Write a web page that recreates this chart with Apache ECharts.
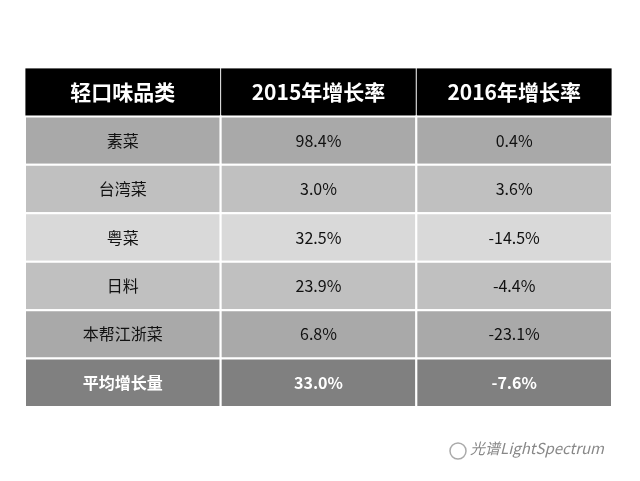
<!DOCTYPE html><html><head><meta charset="utf-8"><script src="https://cdn.jsdelivr.net/npm/echarts@6/dist/echarts.min.js"></script>
<style>html,body{margin:0;background:#fff}#c{width:640px;height:481px}</style></head><body><div id="c"></div><script>
const headers=['轻口味品类','2015年增长率','2016年增长率'];
const categories=['素菜','台湾菜','粤菜','日料','本帮江浙菜','平均增长量'];
const growth2015=['98.4%','3.0%','32.5%','23.9%','6.8%','33.0%'];
const growth2016=['0.4%','3.6%','-14.5%','-4.4%','-23.1%','-7.6%'];
const rowColors=['#000000','#a9a9a9','#c0c0c0','#d9d9d9','#c0c0c0','#a9a9a9','#808080'];
const rows=[headers].concat(categories.map((c,i)=>[c,growth2015[i],growth2016[i]]));
const data=[];rows.forEach((r,ri)=>r.forEach((t,ci)=>data.push([ci,ri])));
const FONT='"Noto Sans CJK SC", sans-serif';
const chart=echarts.init(document.getElementById('c'));
chart.setOption({
 animation:false,
 grid:{left:25,right:28,top:68,bottom:74},
 xAxis:{type:'category',data:[0,1,2],show:false},
 yAxis:{type:'category',data:rows.map((r,i)=>i),inverse:true,show:false},
 series:[{type:'custom',data:data,renderItem:function(params,api){
  const c=api.value(0),r=api.value(1);
  const p=api.coord([c,r]);const s=api.size([1,1]);
  const txt=rows[r][c];const bold=(r===0||r===rows.length-1);
  return {type:'group',children:[
   {type:'rect',shape:{x:p[0]-s[0]/2,y:p[1]-s[1]/2,width:s[0],height:s[1]},style:{fill:rowColors[r],stroke:'#ffffff',lineWidth:r===0?0.8:2}},
   {type:'text',style:{x:p[0],y:p[1],text:txt,align:'center',verticalAlign:'middle',fill:bold?'#fff':'#111',font:(bold?'bold ':'')+(r===0?'21px ':'16px ')+FONT}}
  ]};
 }}],
 graphic:[{type:'text',left:470,top:441,style:{text:'光谱LightSpectrum',fill:'#888',font:'italic 15px '+FONT}},
  {type:'circle',shape:{cx:458,cy:451,r:8},style:{fill:'none',stroke:'#aaa',lineWidth:1.5}}]
});
</script></body></html>
